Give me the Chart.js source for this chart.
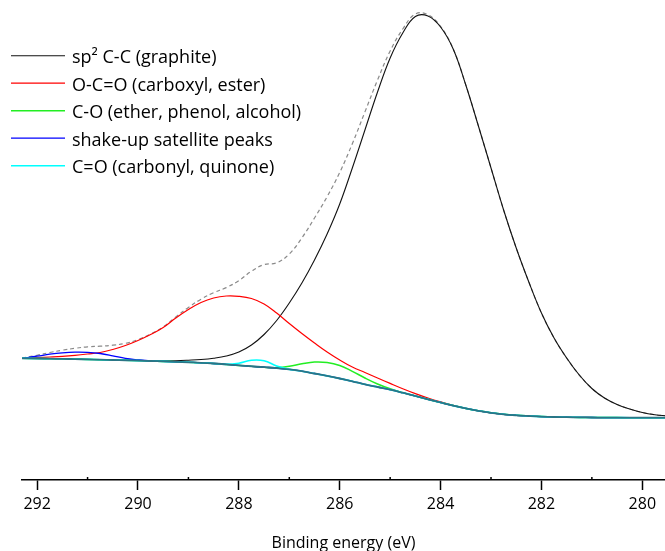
<!DOCTYPE html>
<html>
<head>
<meta charset="utf-8">
<title>C 1s fit</title>
<script src="https://cdn.jsdelivr.net/npm/chart.js@4.4.1/dist/chart.umd.min.js"></script>
<style>
  html, body { margin: 0; padding: 0; background: #fff; }
  #wrap { width: 665px; height: 551px; }
</style>
</head>
<body>
<div id="wrap"><canvas id="chart" width="665" height="551"></canvas></div>
<script>
// Binding energy grid (eV), high to low like the plot
var energy = [292.3, 292, 291.75, 291.5, 291.25, 291, 290.75, 290.5, 290.25, 290,
  289.75, 289.5, 289.25, 289, 288.75, 288.5, 288.25, 288, 287.75, 287.5,
  287.25, 287, 286.75, 286.5, 286.25, 286, 285.75, 285.5, 285.25, 285,
  284.75, 284.5, 284.25, 284, 283.75, 283.5, 283.25, 283, 282.75, 282.5,
  282.25, 282, 281.75, 281.5, 281.25, 281, 280.75, 280.5, 280.25, 280,
  279.75, 279.5];

// Intensities (a.u.)
var background = [121.7, 121.5, 121.3, 121.1, 120.9, 120.6, 120.3, 120.0, 119.7, 119.4,
  119.0, 118.6, 118.2, 117.7, 117.2, 116.5, 115.6, 114.6, 113.7, 112.8,
  111.9, 110.6, 108.8, 106.5, 104.1, 101.5, 98.7, 95.7, 93.0, 90.4,
  87.3, 84.0, 80.7, 77.5, 74.4, 71.6, 69.2, 67.2, 65.7, 64.7,
  64.0, 63.4, 63.0, 62.8, 62.6, 62.5, 62.4, 62.4, 62.3, 62.3,
  62.3, 62.3];

var graphite = [121.7, 121.5, 121.3, 121.1, 120.9, 120.7, 120.4, 120.1, 119.9, 119.6,
  119.4, 119.2, 119.3, 119.8, 120.5, 121.8, 124, 128, 135, 145.5,
  159.5, 177, 197, 220, 246, 276, 312, 350, 388, 422,
  447, 463.5, 464, 453, 431, 395, 354, 312, 270, 232,
  198, 167, 142, 122, 105, 91.5, 82, 75.5, 71, 67.5,
  65.3, 64];

var carboxyl = [121.7, 122.4, 123.0, 123.7, 124.7, 126.0, 127.5, 130.5, 134.5, 139.5,
  145.5, 152.5, 162, 170.5, 177.5, 182, 184, 183.7, 181.5, 176,
  167, 156.5, 146.5, 137, 128, 120, 113, 107.5, 102, 96.6,
  91.3, 86.4, 82.0, 78.1, 74.6, 71.7, 69.3, 67.2, 65.7, 64.7,
  64.0, 63.4, 63.0, 62.8, 62.6, 62.5, 62.4, 62.4, 62.3, 62.3,
  62.3, 62.3];

var ether = [121.7, 121.5, 121.3, 121.1, 120.9, 120.6, 120.3, 120.0, 119.7, 119.4,
  119.0, 118.6, 118.2, 117.7, 117.2, 116.5, 115.6, 114.6, 113.7, 112.8,
  112.4, 113.7, 116.2, 118, 117.5, 114.5, 108.7, 102, 96, 91.2,
  87.4, 84.0, 80.7, 77.5, 74.4, 71.6, 69.2, 67.2, 65.7, 64.7,
  64.0, 63.4, 63.0, 62.8, 62.6, 62.5, 62.4, 62.4, 62.3, 62.3,
  62.3, 62.3];

var satellite = [121.7, 123.8, 125.8, 127.2, 127.9, 127.7, 126.5, 124.2, 121.6, 120.1,
  119.0, 118.6, 118.2, 117.7, 117.2, 116.5, 115.6, 114.6, 113.7, 112.8,
  111.9, 110.6, 108.8, 106.5, 104.1, 101.5, 98.7, 95.7, 93.0, 90.4,
  87.3, 84.0, 80.7, 77.5, 74.4, 71.6, 69.2, 67.2, 65.7, 64.7,
  64.0, 63.4, 63.0, 62.8, 62.6, 62.5, 62.4, 62.4, 62.3, 62.3,
  62.3, 62.3];

var carbonyl = [121.7, 121.5, 121.3, 121.1, 120.9, 120.6, 120.3, 120.0, 119.7, 119.4,
  119.0, 118.6, 118.2, 117.7, 117.2, 116.5, 115.6, 116.8, 119.7, 119.2,
  114.0, 110.6, 108.8, 106.5, 104.1, 101.5, 98.7, 95.7, 93.0, 90.4,
  87.3, 84.0, 80.7, 77.5, 74.4, 71.6, 69.2, 67.2, 65.7, 64.7,
  64.0, 63.4, 63.0, 62.8, 62.6, 62.5, 62.4, 62.4, 62.3, 62.3,
  62.3, 62.3];

// measured envelope (dashed)
var envelope = [122.0, 124.7, 127.5, 129.8, 131.7, 133.2, 133.8, 134.8, 136.6, 140.4,
  145.9, 153.1, 163.1, 172.6, 180.8, 187.3, 192.4, 199.3, 208.8, 215.4,
  217.2, 226.0, 242.1, 262, 283.3, 307.5, 336.3, 368.1, 400, 429,
  451, 466, 465.3, 453.6, 431.2, 395.1, 354.1, 312, 270, 232,
  198, 167, 142, 122, 105, 91.5, 82, 75.5, 71, 67.5,
  65.3, 64];

var legendLabels = ['sp\u00B2 C-C (graphite)', 'O-C=O (carboxyl, ester)',
  'C-O (ether, phenol, alcohol)', 'shake-up satellite peaks', 'C=O (carbonyl, quinone)'];

function toPoints(values) {
  return values.map(function (v, i) { return { x: energy[i], y: v }; });
}

function series(values, color, width, order, row) {
  return {
    data: toPoints(values),
    borderColor: color,
    borderWidth: width,
    pointRadius: 0,
    fill: false,
    tension: 0.4,
    order: order,
    legendRow: row
  };
}

var envSet = series(envelope, '#8a8a8a', 1.2, 8);
envSet.borderDash = [4, 3];

var datasets = [
  series(graphite, '#111111', 1.1, 6, 0),
  series(carboxyl, '#ff0000', 1.2, 5, 1),
  series(ether, '#22ee22', 1.5, 4, 2),
  series(satellite, '#0000ff', 1.3, 3, 3),
  series(carbonyl, '#00ffff', 1.6, 2, 4),
  series(background, '#2b7585', 1.8, 1),
  envSet
];
datasets.forEach(function (ds) {
  if (ds.legendRow !== undefined) ds.label = legendLabels[ds.legendRow];
});

// small inward ticks at the odd eV values
var minorTicks = {
  id: 'minorTicks',
  afterDraw: function (chart) {
    var ctx = chart.ctx;
    var xs = chart.scales.x;
    var y0 = chart.chartArea.bottom;
    ctx.save();
    ctx.strokeStyle = '#000';
    ctx.lineWidth = 1.5;
    for (var v = 281; v <= 291; v += 2) {
      var px = xs.getPixelForValue(v);
      ctx.beginPath();
      ctx.moveTo(px, y0);
      ctx.lineTo(px, y0 - 3);
      ctx.stroke();
    }
    ctx.restore();
  }
};

// line-sample legend in the upper left corner
var lineLegend = {
  id: 'lineLegend',
  afterDraw: function (chart) {
    var ctx = chart.ctx;
    ctx.save();
    ctx.font = '18px "Open Sans", sans-serif';
    ctx.fillStyle = '#000';
    ctx.textBaseline = 'alphabetic';
    chart.data.datasets.forEach(function (ds) {
      if (ds.legendRow === undefined) return;
      var y = 55.7 + ds.legendRow * 27.5;
      ctx.strokeStyle = ds.borderColor;
      ctx.lineWidth = ds.borderWidth;
      ctx.beginPath();
      ctx.moveTo(11, y);
      ctx.lineTo(65, y);
      ctx.stroke();
      ctx.fillText(ds.label, 72, y + 7.4);
    });
    ctx.restore();
  }
};

Chart.defaults.font.family = '"Open Sans", sans-serif';
Chart.defaults.color = '#000';

var ctx = document.getElementById('chart').getContext('2d');
var chart = new Chart(ctx, {
  type: 'line',
  data: { datasets: datasets },
  options: {
    responsive: false,
    animation: false,
    devicePixelRatio: 1,
    layout: { padding: { left: 22, right: 0, top: 0, bottom: 0 } },
    plugins: {
      legend: { display: false },
      tooltip: { enabled: false }
    },
    scales: {
      x: {
        type: 'linear',
        reverse: true,
        min: 279.55,
        max: 292.3,
        grid: { drawOnChartArea: false, drawTicks: true, tickLength: 10, tickWidth: 1.5, tickColor: '#000' },
        border: { display: true, color: '#000', width: 1.5 },
        ticks: { stepSize: 2, includeBounds: false, padding: 5, font: { size: 16 }, color: '#000', maxRotation: 0 },
        title: { display: true, text: 'Binding energy (eV)', font: { size: 16, lineHeight: 1 }, padding: 0, color: '#000' },
        afterFit: function (scale) { scale.height = 71; }
      },
      y: {
        display: false,
        min: 0,
        max: 480
      }
    }
  },
  plugins: [minorTicks, lineLegend]
});
</script>
</body>
</html>
